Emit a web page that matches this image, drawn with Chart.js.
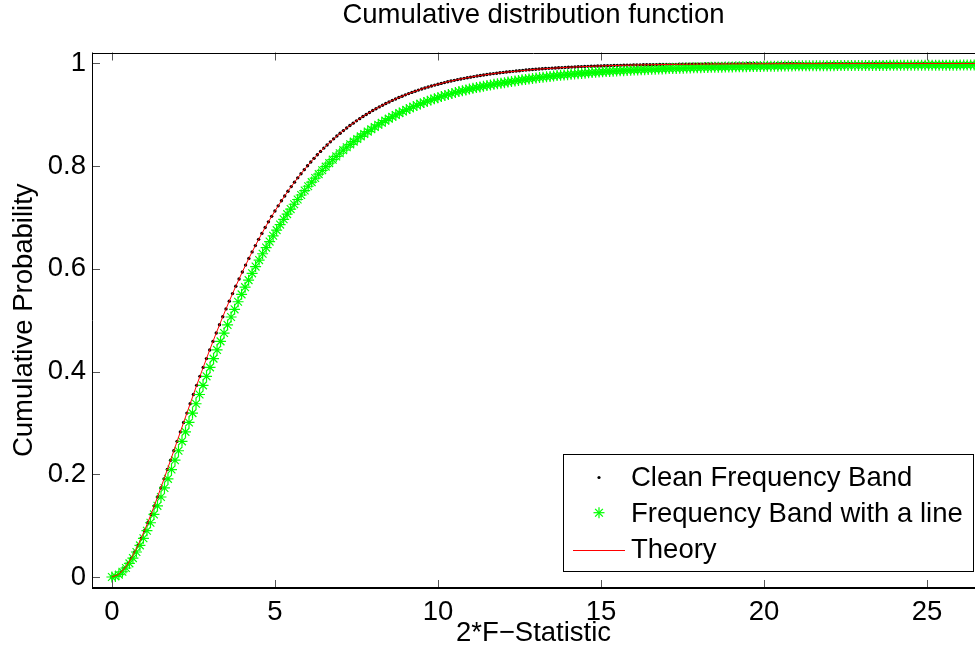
<!DOCTYPE html>
<html>
<head>
<meta charset="utf-8">
<script src="https://cdn.jsdelivr.net/npm/chart.js@4.4.1/dist/chart.umd.min.js"></script>
<style>
html,body{margin:0;padding:0;background:#fff;overflow:hidden;}
canvas{display:block;}
</style>
</head>
<body>
<canvas id="c" width="975" height="654"></canvas>
<script>
// ---- chart text ----
const chartTitle = 'Cumulative distribution function';
const xTitle = '2*F\u2212Statistic';
const yTitle = 'Cumulative Probability';
const seriesNames = ['Clean Frequency Band', 'Frequency Band with a line', 'Theory'];

// ---- tick labels ----
const xTicks = [0, 5, 10, 15, 20, 25];
const yTicks = [0, 0.2, 0.4, 0.6, 0.8, 1];

// ---- Clean Frequency Band (x grid step 0.1, starting at 0) ----
const cleanStep = 0.1;
const cleanY = [
0,.0012,.0047,.0102,.0175,.0265,.0369,.0487,.0616,.0754,
.0902,.1057,.1219,.1386,.1558,.1734,.1912,.2093,.2275,.2459,
.2642,.2826,.3010,.3192,.3374,.3554,.3732,.3908,.4082,.4253,
.4422,.4588,.4751,.4911,.5068,.5221,.5372,.5519,.5663,.5803,
.5940,.6074,.6204,.6331,.6454,.6575,.6691,.6805,.6916,.7023,
.7127,.7228,.7326,.7421,.7513,.7603,.7689,.7773,.7854,.7933,
.8009,.8082,.8153,.8222,.8288,.8352,.8414,.8474,.8532,.8587,
.8641,.8693,.8743,.8791,.8838,.8883,.8926,.8968,.9008,.9047,
.9084,.9120,.9155,.9188,.9220,.9251,.9281,.9309,.9337,.9363,
.9389,.9414,.9437,.9460,.9482,.9503,.9523,.9542,.9561,.9579,
.9596,.9612,.9628,.9643,.9658,.9672,.9686,.9698,.9711,.9723,
.9734,.9745,.9756,.9766,.9776,.9785,.9794,.9803,.9811,.9819,
.9826,.9834,.9841,.9847,.9854,.9860,.9866,.9872,.9877,.9882,
.9887,.9892,.9897,.9901,.9905,.9909,.9913,.9917,.9920,.9924,
.9927,.9930,.9933,.9936,.9939,.9941,.9944,.9946,.9949,.9951,
.9953,.9955,.9957,.9959,.9961,.9962,.9964,.9966,.9967,.9969,
.9970,.9971,.9973,.9974,.9975,.9976,.9977,.9978,.9979,.9980,
.9981,.9982,.9983,.9983,.9984,.9985,.9986,.9986,.9987,.9987,
.9988,.9988,.9989,.9989,.9990,.9990,.9991,.9991,.9991,.9992,
.9992,.9992,.9993,.9993,.9993,.9994,.9994,.9994,.9994,.9995,
.9995,.9995,.9995,.9996,.9996,.9996,.9996,.9996,.9997,.9997,
.9997,.9997,.9997,.9997,.9997,.9998,.9998,.9998,.9998,.9998,
.9998,.9998,.9998,.9998,.9998,.9999,.9999,.9999,.9999,.9999,
.9999,.9999,.9999,.9999,.9999,.9999,.9999,.9999,.9999,.9999,
.9999,.9999,.9999,.9999,.9999,.9999,.9999,.9999,.9999,.9999,
1,1,1,1,1,1,1,1,1,1,
1,1,1,1,1,1
];

// ---- Frequency Band with a line (x grid step 0.1075, starting at 0) ----
const lineStep = 0.1075;
const lineY = [
0,.0012,.0047,.0102,.0175,.0265,.0369,.0487,.0616,.0754,
.0902,.1057,.1219,.1386,.1558,.1734,.1912,.2093,.2275,.2459,
.2642,.2826,.3010,.3192,.3374,.3554,.3732,.3908,.4082,.4253,
.4422,.4588,.4751,.4909,.5063,.5213,.5360,.5504,.5644,.5781,
.5914,.6045,.6172,.6295,.6415,.6532,.6645,.6755,.6863,.6966,
.7067,.7165,.7259,.7351,.7439,.7526,.7609,.7690,.7769,.7846,
.7920,.7991,.8060,.8127,.8190,.8252,.8312,.8370,.8426,.8479,
.8530,.8580,.8628,.8674,.8719,.8763,.8806,.8847,.8887,.8926,
.8962,.8998,.9033,.9066,.9097,.9128,.9158,.9186,.9213,.9239,
.9265,.9290,.9312,.9335,.9357,.9378,.9397,.9416,.9435,.9453,
.9469,.9485,.9501,.9516,.9530,.9544,.9558,.9570,.9582,.9594,
.9605,.9615,.9627,.9638,.9649,.9660,.9670,.9681,.9690,.9700,
.9708,.9717,.9726,.9733,.9742,.9749,.9757,.9764,.9770,.9777,
.9783,.9790,.9796,.9802,.9807,.9812,.9818,.9823,.9828,.9833,
.9837,.9842,.9846,.9850,.9854,.9857,.9861,.9864,.9868,.9871,
.9874,.9877,.9880,.9883,.9887,.9889,.9892,.9895,.9897,.9900,
.9902,.9904,.9907,.9909,.9911,.9913,.9915,.9918,.9919,.9921,
.9923,.9925,.9926,.9927,.9929,.9930,.9932,.9933,.9935,.9935,
.9937,.9938,.9939,.9940,.9942,.9943,.9944,.9945,.9946,.9947,
.9948,.9949,.9951,.9951,.9952,.9954,.9954,.9954,.9954,.9955,
.9956,.9956,.9956,.9957,.9957,.9958,.9958,.9959,.9959,.9960,
.9960,.9960,.9961,.9961,.9961,.9962,.9962,.9962,.9963,.9963,
.9963,.9963,.9964,.9964,.9964,.9965,.9965,.9965,.9965,.9966,
.9966,.9966,.9966,.9967,.9967,.9967,.9967,.9967,.9968,.9968,
.9968,.9968,.9969,.9969,.9969,.9970,.9970
];

// ---- Theory curve ----
const theoryX = [
0,0.2,0.4,0.6,0.8,1.0,1.2,1.4,1.6,1.8,2.0,2.2,2.4,2.6,2.8,3.0,3.2,3.4,3.6,3.8,
4.0,4.2,4.4,4.6,4.8,5.0,5.2,5.4,5.6,5.8,6.0,6.2,6.4,6.6,6.8,7.0,7.2,7.4,7.6,7.8,
8.0,8.2,8.4,8.6,8.8,9.0,9.2,9.4,9.6,9.8,10.0,10.2,10.4,10.6,10.8,11.0,11.2,11.4,11.6,11.8,
12,13,14,15,16,17,18,19,20,22,24,26.5
];
const theoryY = [
0,.0047,.0175,.0369,.0616,.0902,.1219,.1558,.1912,.2275,.2642,.3010,.3374,.3732,.4082,.4422,.4751,.5068,.5372,.5663,
.5940,.6204,.6454,.6691,.6916,.7127,.7326,.7513,.7689,.7854,.8009,.8153,.8288,.8414,.8532,.8641,.8743,.8838,.8926,.9008,
.9084,.9155,.9220,.9281,.9337,.9389,.9437,.9482,.9523,.9561,.9596,.9628,.9658,.9686,.9711,.9734,.9756,.9776,.9794,.9811,
.9826,.9887,.9927,.9953,.9970,.9981,.9988,.9992,.9995,.9998,.9999,1
];

const FONT = "'Liberation Sans', Arial, Helvetica, sans-serif";
const FS = 27.5;
Chart.defaults.font.family = FONT;
Chart.defaults.font.size = FS;
Chart.defaults.color = '#000';

const boxPlugin = {
  id: 'matlabBox',
  afterDraw(chart) {
    const ctx = chart.ctx;
    const {left, top, right, bottom} = chart.chartArea;
    const xs = chart.scales.x, ys = chart.scales.y;
    const seg = (x1, y1, x2, y2) => { ctx.beginPath(); ctx.moveTo(x1, y1); ctx.lineTo(x2, y2); ctx.stroke(); };
    ctx.save();
    // inward ticks
    ctx.strokeStyle = '#555';
    ctx.lineWidth = 1;
    const tl = 8;
    xTicks.forEach(v => {
      const px = Math.round(xs.getPixelForValue(v)) + 0.5;
      seg(px, bottom, px, bottom - tl);
      seg(px, top, px, top + tl);
    });
    yTicks.forEach(v => {
      const py = Math.round(ys.getPixelForValue(v)) + 0.5;
      seg(left, py, left + tl, py);
    });
    // axes box (right edge lies at the window edge)
    ctx.strokeStyle = '#000';
    ctx.lineWidth = 1;
    seg(Math.round(left) + 0.5, top, Math.round(left) + 0.5, bottom + 1);
    seg(left, Math.round(top) + 0.5, right, Math.round(top) + 0.5);
    ctx.lineWidth = 2;
    seg(left, Math.round(bottom), right, Math.round(bottom));

    // legend
    const lgR = right - 2, lgB = bottom - 17;
    const lgW = 410, lgH = 117;
    const lgL = lgR - lgW, lgT = lgB - lgH;
    ctx.fillStyle = '#fff';
    ctx.fillRect(lgL, lgT, lgW, lgH);
    ctx.strokeStyle = '#000';
    ctx.lineWidth = 1;
    ctx.strokeRect(Math.round(lgL) + 0.5, Math.round(lgT) + 0.5, lgW, lgH);
    const rowBase = [lgT + 32, lgT + 67.7, lgT + 104.3];
    const rowMid = [lgT + 23.5, lgT + 58.7, lgT + 95.5];
    const mx = lgL + 36;
    ctx.font = FS + 'px ' + FONT;
    ctx.fillStyle = '#000';
    ctx.textBaseline = 'alphabetic';
    ctx.textAlign = 'left';
    seriesNames.forEach((n, i) => ctx.fillText(n, lgL + 68, rowBase[i]));
    // marker: dot
    ctx.fillStyle = '#000';
    ctx.beginPath(); ctx.arc(mx, rowMid[0], 1.6, 0, Math.PI * 2); ctx.fill();
    // marker: star
    ctx.strokeStyle = '#00ff00';
    ctx.lineWidth = 1.2;
    const r = 5.5;
    for (let k = 0; k < 4; k++) {
      const a = k * Math.PI / 4;
      seg(mx - Math.cos(a) * r, rowMid[1] - Math.sin(a) * r, mx + Math.cos(a) * r, rowMid[1] + Math.sin(a) * r);
    }
    // marker: line
    ctx.strokeStyle = '#ff0000';
    ctx.lineWidth = 1;
    seg(lgL + 10, Math.round(rowMid[2]) + 0.5, lgL + 62, Math.round(rowMid[2]) + 0.5);
    ctx.restore();
  }
};

new Chart(document.getElementById('c').getContext('2d'), {
  type: 'scatter',
  data: {
    datasets: [
      {
        label: seriesNames[0],
        data: cleanY.map((v, i) => ({x: i * cleanStep, y: v})),
        showLine: false,
        pointStyle: 'circle',
        pointRadius: 1.7,
        pointBorderWidth: 0,
        backgroundColor: '#000',
        borderColor: '#000',
        order: 3
      },
      {
        label: seriesNames[1],
        data: lineY.map((v, i) => ({x: i * lineStep, y: v})),
        showLine: false,
        pointStyle: 'star',
        pointRadius: 5.5,
        pointBorderWidth: 1.2,
        borderColor: '#00ff00',
        backgroundColor: '#00ff00',
        order: 2
      },
      {
        label: seriesNames[2],
        data: theoryX.map((x, i) => ({x: x, y: theoryY[i]})),
        showLine: true,
        pointRadius: 0,
        borderColor: '#ff0000',
        borderWidth: 1,
        backgroundColor: '#ff0000',
        order: 1
      }
    ]
  },
  options: {
    responsive: false,
    animation: false,
    events: [],
    layout: {padding: 0, autoPadding: false},
    plugins: {
      legend: {display: false},
      tooltip: {enabled: false},
      title: {
        display: true,
        text: chartTitle,
        fullSize: false,
        color: '#000',
        font: {size: FS, weight: 'normal', lineHeight: 1},
        padding: {top: 2, bottom: 23}
      }
    },
    scales: {
      x: {
        type: 'linear',
        min: -0.61,
        max: 26.47,
        afterBuildTicks: s => { s.ticks = xTicks.map(v => ({value: v})); },
        afterFit: s => { s.height = 66; s.paddingLeft = 0; s.paddingRight = 0; },
        ticks: {padding: 8, maxRotation: 0, autoSkip: false, color: '#000', callback: v => String(v)},
        grid: {display: false, drawTicks: false},
        border: {display: false},
        title: {display: true, text: xTitle, color: '#000', padding: {top: 0, bottom: 4}}
      },
      y: {
        type: 'linear',
        min: -0.0214,
        max: 1.0214,
        afterBuildTicks: s => { s.ticks = yTicks.map(v => ({value: v})); },
        afterFit: s => { s.width = 92; s.paddingTop = 0; s.paddingBottom = 0; },
        ticks: {padding: 6, autoSkip: false, color: '#000', callback: v => String(v)},
        grid: {display: false, drawTicks: false},
        border: {display: false},
        title: {display: true, text: yTitle, color: '#000', padding: {top: 8, bottom: 0}}
      }
    }
  },
  plugins: [boxPlugin]
});
</script>
</body>
</html>
